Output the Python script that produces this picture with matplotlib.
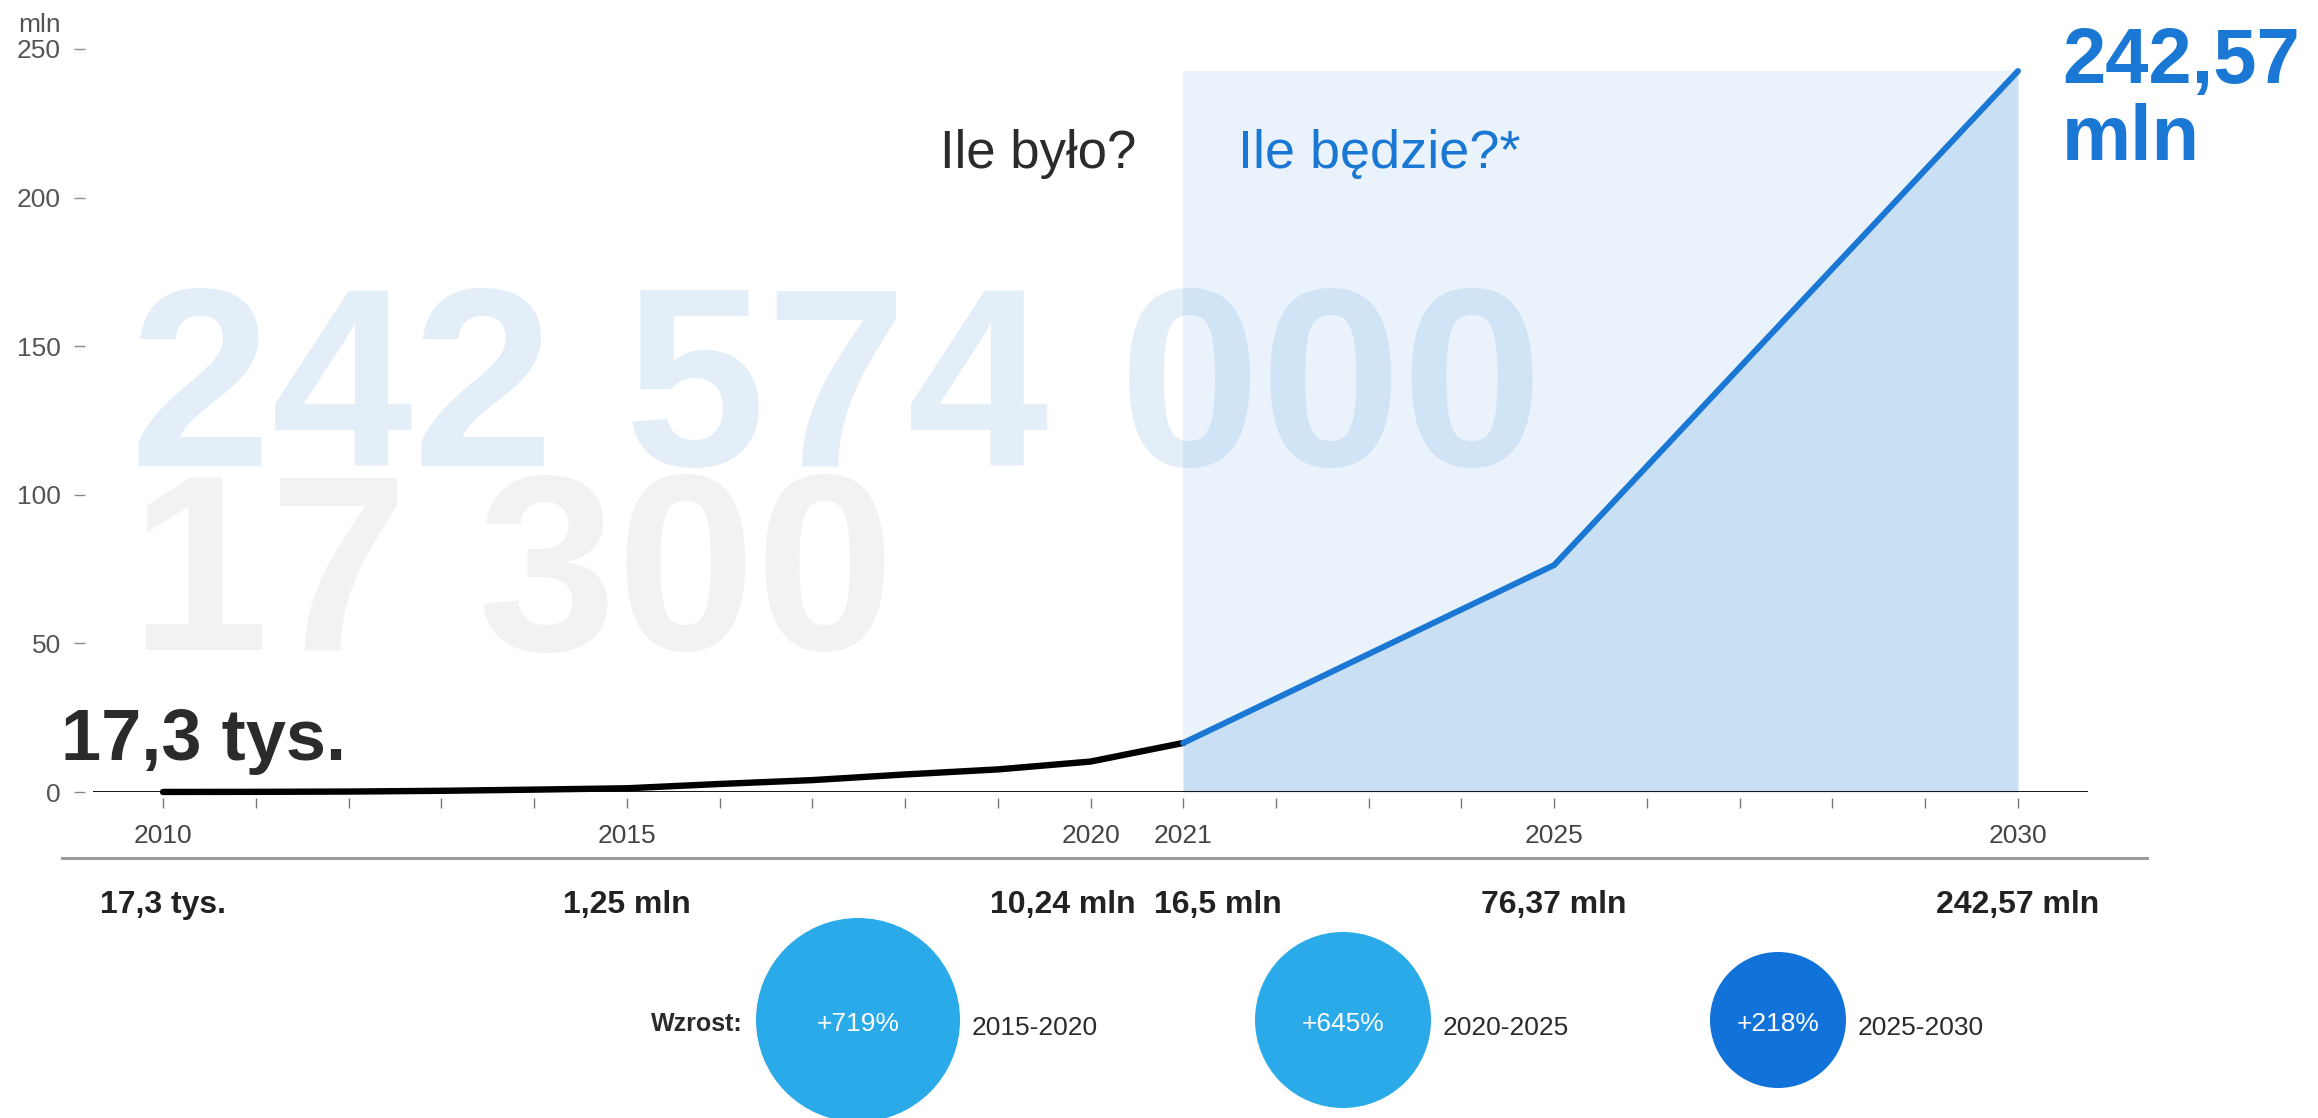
import matplotlib
matplotlib.use('Agg')
import matplotlib.pyplot as plt
import matplotlib.transforms as mtransforms
from matplotlib.patches import Circle
from matplotlib.lines import Line2D

plt.rcParams['font.family'] = ['Liberation Sans', 'DejaVu Sans']

# dane (mln)
lata_hist = [2010, 2011, 2012, 2013, 2014, 2015, 2016, 2017, 2018, 2019, 2020, 2021]
wart_hist = [0.0173, 0.05, 0.15, 0.4, 0.8, 1.25, 2.7, 4.0, 5.9, 7.6, 10.24, 16.5]
lata_prog = [2021, 2025, 2030]
wart_prog = [16.5, 76.37, 242.57]

lata_opis = [2010, 2015, 2020, 2021, 2025, 2030]
etykiety_wart = ['17,3 tys.', '1,25 mln', '10,24 mln', '16,5 mln', '76,37 mln', '242,57 mln']

wzrost_proc = ['+719%', '+645%', '+218%']
wzrost_okres = ['2015-2020', '2020-2025', '2025-2030']

yticks = [0, 50, 100, 150, 200, 250]

# kolory
NIEBIESKI = '#1a78d4'
CIEMNY = '#2b2b2b'

W, H = 2318, 1118
fig = plt.figure(figsize=(W / 100, H / 100), dpi=100)
# transformacja w pikselach (od lewego górnego rogu)
PX = mtransforms.Affine2D().scale(1 / W, -1 / H).translate(0, 1) + fig.transFigure

ax = fig.add_axes([93 / W, 326 / H, 1995 / W, 0.67791])
ax.set_xlim(2009.245, 2030.755)
ax.set_ylim(0, 255)

# tło prognozy
ax.fill_between([lata_prog[0], lata_prog[-1]], 0, max(wart_prog), color='#eaf3fb', lw=0, zorder=0.5)
ax.fill_between(lata_prog, 0, wart_prog, color='#c9dff4', lw=0, zorder=1.5)

# duże liczby w tle
ax.text(130, 466, '242 574 000', transform=PX, fontsize=183, fontweight='bold',
        color=NIEBIESKI, alpha=0.12, zorder=1, va='baseline')
ax.text(130, 650, '17 300', transform=PX, fontsize=180, fontweight='bold',
        color='black', alpha=0.05, zorder=1, va='baseline')

# linie
ax.axhline(0, color='black', lw=2, zorder=2)
ax.plot(lata_hist, wart_hist, color='black', lw=4.6, zorder=3, clip_on=False,
        solid_capstyle='round', solid_joinstyle='round')
ax.plot(lata_prog, wart_prog, color=NIEBIESKI, lw=4.3, zorder=3, clip_on=False,
        solid_capstyle='round', solid_joinstyle='round')

# osie
for s in ax.spines.values():
    s.set_visible(False)
ax.spines['left'].set_position(('outward', 5.8))
ax.spines['bottom'].set_position(('outward', 4.3))
ax.set_yticks(yticks)
ax.tick_params(axis='y', length=8, width=1, color='#888', pad=9.4,
               labelsize=19, labelcolor='#555')
wszystkie_lata = list(range(2010, 2031))
ax.set_xticks(wszystkie_lata)
ax.set_xticklabels([str(r) if r in lata_opis else '' for r in wszystkie_lata])
ax.tick_params(axis='x', length=7, width=1, color='#777', pad=12,
               labelsize=19, labelcolor='#444')
ax.set_facecolor('none')

# napisy
fig.text(18, 32, 'mln', transform=PX, fontsize=19, color='#555', va='baseline')
fig.text(940, 168, 'Ile było?', transform=PX, fontsize=38, color=CIEMNY, va='baseline')
fig.text(1238, 168, 'Ile będzie?*', transform=PX, fontsize=39, color=NIEBIESKI, va='baseline')
fig.text(61, 760, '17,3 tys.', transform=PX, fontsize=52, fontweight='bold',
         color=CIEMNY, va='baseline')
fig.text(2062, 83, '242,57', transform=PX, fontsize=56, fontweight='bold',
         color=NIEBIESKI, va='baseline')
fig.text(2062, 160, 'mln', transform=PX, fontsize=56, fontweight='bold',
         color=NIEBIESKI, va='baseline')

# linia oddzielająca
fig.add_artist(Line2D([62, 2147], [858, 858], transform=PX, color='#9a9a9a', lw=2.2))

# wartości pod osią
rzad = mtransforms.blended_transform_factory(ax.transData, PX)
uklad = {2020: ('right', 45), 2021: ('left', -29)}
for rok, et in zip(lata_opis, etykiety_wart):
    ha, dx = uklad.get(rok, ('center', 0))
    tr = mtransforms.offset_copy(rzad, fig=fig, x=dx, y=0, units='dots')
    fig.text(rok, 913, et, transform=tr, ha=ha, va='baseline', fontsize=23,
             fontweight='bold', color='#222')

# bąbelki wzrostu
bab_x = [858, 1343, 1778]
bab_r = [102, 88, 68]
bab_kol = ['#2aaae9', '#2aaae9', '#1173d9']
bab_y = 1020
fig.text(743, 1031, 'Wzrost:', transform=PX, ha='right', va='baseline', fontsize=18,
         fontweight='bold', color=CIEMNY)
for x, r, k, p, o in zip(bab_x, bab_r, bab_kol, wzrost_proc, wzrost_okres):
    fig.add_artist(Circle((x, bab_y), r, transform=PX, color=k, lw=0))
    fig.text(x, 1031, p, transform=PX, ha='center', va='baseline', fontsize=19, color='white')
    fig.text(x + r + 12, 1035, o, transform=PX, ha='left', va='baseline', fontsize=19,
             color=CIEMNY)

fig.savefig('out.png', dpi=100)
